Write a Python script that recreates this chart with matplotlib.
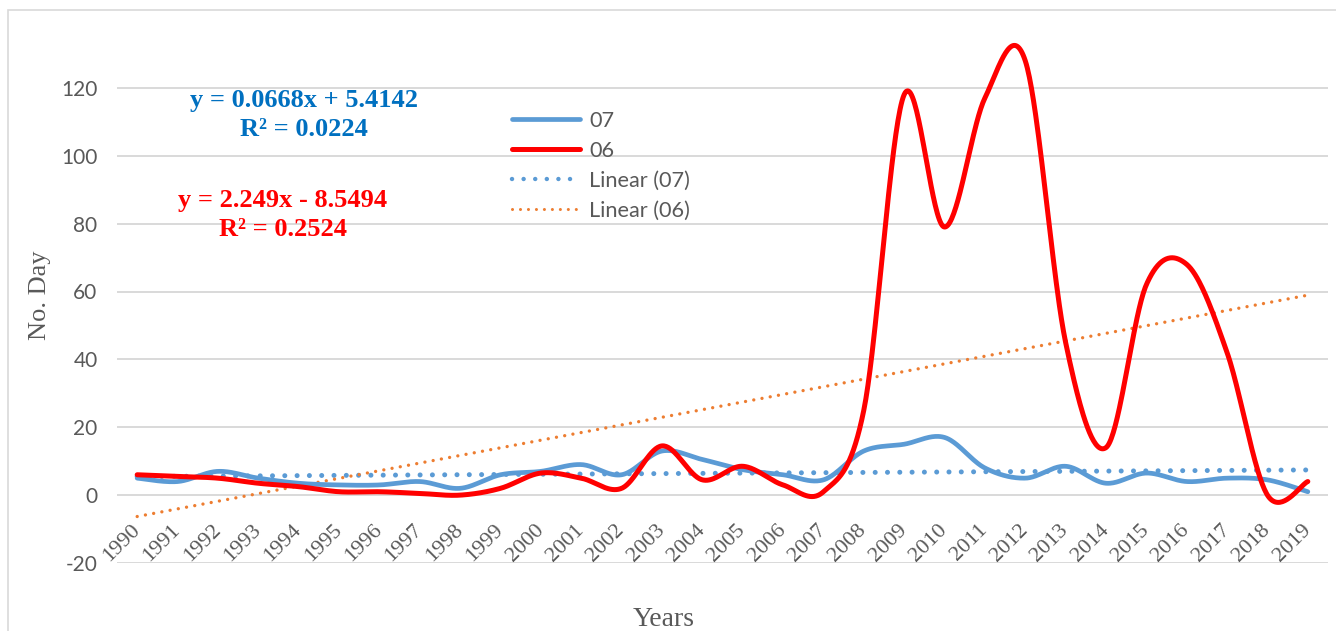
import numpy as np
import matplotlib
matplotlib.use("Agg")
import matplotlib.pyplot as plt
from matplotlib.lines import Line2D
from matplotlib.patches import Rectangle

# ---------------- data ----------------
years = [str(y) for y in range(1990, 2020)]
s07 = [5, 4, 7, 5, 3.5, 3, 3, 4, 2, 6, 7, 9, 6, 13, 10.5, 7.5, 6, 4.5, 13, 15,
       17, 8, 5, 8.5, 3.5, 6.5, 4, 5, 4.5, 1]
s06 = [6, 5.5, 5, 3.5, 2.5, 1, 1, 0.5, 0, 2, 6.5, 5, 2, 14.5, 4.5, 8.5, 3, 1,
       25, 118, 79, 117, 128, 45, 14, 62, 68, 42, 0, 4]
trend07 = (0.0668, 5.4142)   # slope, intercept (x = 1..30)
trend06 = (2.249, -8.5494)
eq07 = ["y = 0.0668x + 5.4142", "R² = 0.0224"]
eq06 = ["y = 2.249x - 8.5494", "R² = 0.2524"]
yticks = [-20, 0, 20, 40, 60, 80, 100, 120]

GRAY = "#595959"
BLUE = "#5B9BD5"
RED = "#FF0000"
ORANGE = "#ED7D31"


def excel_smooth(y, n=40):
    P = np.column_stack([np.arange(len(y), dtype=float), np.asarray(y, float)])
    out = []
    t = np.linspace(0, 1, n)[:, None]
    for i in range(len(P) - 1):
        p0 = P[i - 1] if i > 0 else P[i]
        p1, p2 = P[i], P[i + 1]
        p3 = P[i + 2] if i + 2 < len(P) else P[i + 1]
        c1 = p1 + (p2 - p0) / 6
        c2 = p2 - (p3 - p1) / 6
        seg = (1 - t) ** 3 * p1 + 3 * (1 - t) ** 2 * t * c1 + 3 * (1 - t) * t ** 2 * c2 + t ** 3 * p2
        out.append(seg if i == 0 else seg[1:])
    return np.vstack(out)


W, H = 1336, 631
fig = plt.figure(figsize=(W / 100, H / 100), dpi=100)
ax = fig.add_axes([117 / W, 1 - 563 / H, (1328 - 117) / W, (563 - 20) / H])

# outer chart frame (cropped on right/bottom)
fig.patches.append(Rectangle((8 / W, -0.1), 1.2, 1 - 10 / H + 0.1, transform=fig.transFigure,
                             fill=False, edgecolor="#D9D9D9", linewidth=1.2, zorder=0))

x = np.arange(len(years))
for v in yticks:
    ax.axhline(v, color="#D9D9D9", linewidth=1.4, zorder=1)

b = excel_smooth(s07)
r = excel_smooth(s06)
ax.plot(b[:, 0], b[:, 1], color=BLUE, linewidth=3.4, solid_capstyle="round", zorder=3, clip_on=False)
ax.plot(r[:, 0], r[:, 1], color=RED, linewidth=3.6, solid_capstyle="round", zorder=4, clip_on=False)

xt = np.array([x[0], x[-1]], float)
ax.plot(xt, trend07[0] * (xt + 1) + trend07[1], color=BLUE, linewidth=3.6,
        linestyle=(0, (0.01, 2.45)), dash_capstyle="round", zorder=2)
ax.plot(xt, trend06[0] * (xt + 1) + trend06[1], color=ORANGE, linewidth=2.4,
        linestyle=(0, (0.01, 2.5)), dash_capstyle="round", zorder=2)

ax.spines["bottom"].set_position(("data", 0))
for s in ax.spines.values():
    s.set_visible(False)
ax.set_xlim(-0.5, len(years) - 0.5)
ax.set_ylim(-20, 140)
ax.set_yticks(yticks)
ax.set_yticklabels([str(v) for v in yticks], fontfamily="Lato", fontsize=15, color=GRAY)
ax.tick_params(axis="y", length=0, pad=14)
ax.set_xticks(x)
ax.set_xticklabels(years, rotation=45, ha="right", va="center", rotation_mode="anchor",
                   fontfamily="Liberation Serif", fontsize=16, color=GRAY)
ax.tick_params(axis="x", length=0, pad=23)
ax.patch.set_alpha(0)

fig.text(40 / W, 1 - 295 / H, "No. Day", rotation=90, ha="center", va="center",
         fontfamily="Liberation Serif", fontsize=19, color=GRAY)
fig.text(664 / W, 1 - 620 / H, "Years", ha="center", va="center",
         fontfamily="Liberation Serif", fontsize=20, color=GRAY)

ekw = dict(ha="center", va="center", fontfamily="Liberation Serif", fontweight="bold", fontsize=19)
fig.text(304 / W, 1 - 100 / H, eq07[0], color="#0070C0", **ekw)
fig.text(304 / W, 1 - 130 / H, eq07[1], color="#0070C0", **ekw)
fig.text(283 / W, 1 - 200 / H, eq06[0], color=RED, **ekw)
fig.text(283 / W, 1 - 229 / H, eq06[1], color=RED, **ekw)

handles = [
    Line2D([], [], color=BLUE, linewidth=3.4, solid_capstyle="round"),
    Line2D([], [], color=RED, linewidth=3.6, solid_capstyle="round"),
    Line2D([], [], color=BLUE, linewidth=3.2, linestyle=(0, (0.01, 2.6)), dash_capstyle="round"),
    Line2D([], [], color=ORANGE, linewidth=2.2, linestyle=(0, (0.01, 2.6)), dash_capstyle="round"),
]
leg = fig.legend(handles, ["07", "06", "Linear (07)", "Linear (06)"], loc="upper left",
                 bbox_to_anchor=(512 / W, 1 - 111 / H), bbox_transform=fig.transFigure,
                 frameon=False, prop={"family": "Lato", "size": 15.7}, labelcolor=GRAY,
                 handlelength=3.1, handletextpad=0.45, labelspacing=0.45, borderpad=0,
                 borderaxespad=0)

fig.savefig("out.png", dpi=100)
